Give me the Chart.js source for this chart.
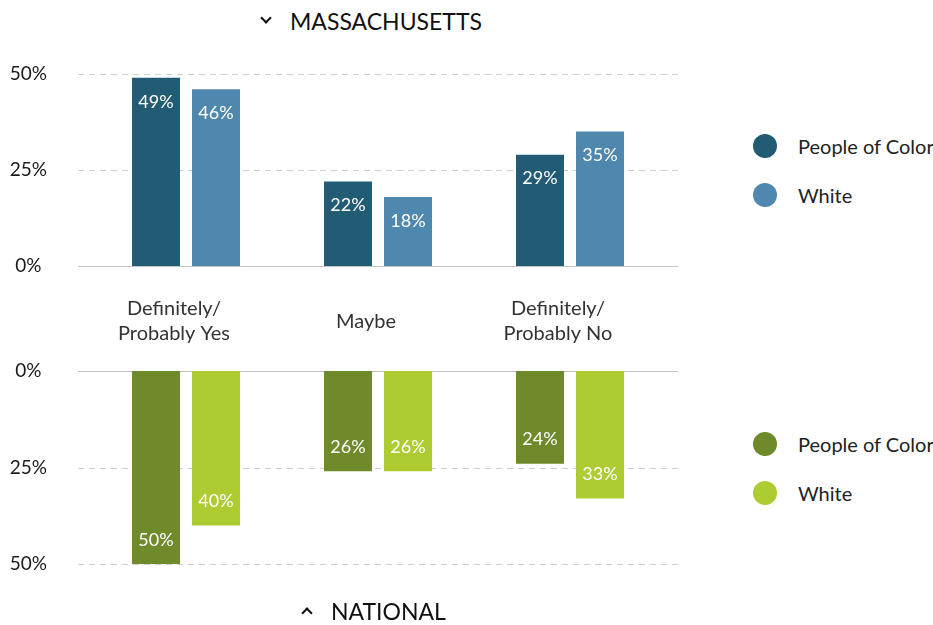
<!DOCTYPE html>
<html>
<head>
<meta charset="utf-8">
<script src="https://cdn.jsdelivr.net/npm/chart.js@4.4.1/dist/chart.umd.min.js"></script>
<style>
  html, body { margin: 0; padding: 0; background: #fff; }
  body { width: 933px; height: 625px; position: relative; overflow: hidden; font-family: Lato, "Open Sans", sans-serif; }
  .box { position: absolute; left: 0; width: 700px; }
  .title { position: absolute; font-size: 23px; color: #111; white-space: nowrap; }
  .chev { display: inline-block; width: 6px; height: 6px; border: solid #111; margin-right: 20px; vertical-align: middle; }
  .chev.down { border-width: 0 2px 2px 0; transform: rotate(45deg); position: relative; top: -6px; }
  .chev.up { border-width: 2px 0 0 2px; transform: rotate(45deg); position: relative; top: -1px; }
  .legend { position: absolute; left: 753px; font-size: 20px; color: #222; }
  .legend div { height: 49px; line-height: 24px; white-space: nowrap; }
  .legend span { display: inline-block; width: 24px; height: 24px; border-radius: 50%; vertical-align: top; margin-right: 21px; }
</style>
</head>
<body>
<div class="title" style="left:262px; top:7px;"><span class="chev down"></span>MASSACHUSETTS</div>
<div class="box" style="top:0; height:360px;"><canvas id="ma"></canvas></div>
<div class="box" style="top:321px; height:304px;"><canvas id="nat"></canvas></div>
<div class="title" style="left:303px; top:597px;"><span class="chev up"></span>NATIONAL</div>
<div class="legend" id="lg1" style="top:134px;"></div>
<div class="legend" id="lg2" style="top:432px;"></div>
<script>
const categories = [["Definitely/", "Probably Yes"], "Maybe", ["Definitely/", "Probably No"]];
const seriesNames = ["People of Color", "White"];
const maPoc = [49, 22, 29];
const maWhite = [46, 18, 35];
const natPoc = [50, 26, 24];
const natWhite = [40, 26, 33];
const yTicks = [0, 25, 50];
const maColors = ["#225b74", "#4f88ae"];
const natColors = ["#6f8a2a", "#adcc31"];

// dashed guide lines that run a little past the bars on both sides
const guides = {
  id: "guides",
  beforeDatasetsDraw(chart) {
    const ctx = chart.ctx, a = chart.chartArea, y = chart.scales.y;
    ctx.save();
    ctx.lineWidth = 1;
    yTicks.forEach(v => {
      const py = Math.round(y.getPixelForValue(v)) + 0.5;
      ctx.strokeStyle = v === 0 ? "#c4c4c4" : "#cfcfcf";
      ctx.setLineDash(v === 0 ? [] : [6, 5]);
      ctx.beginPath();
      ctx.moveTo(a.left - 12, py);
      ctx.lineTo(a.right + 12, py);
      ctx.stroke();
    });
    ctx.restore();
  },
};

// value labels inside the bar ends
const valueLabels = {
  id: "valueLabels",
  afterDatasetsDraw(chart) {
    const ctx = chart.ctx;
    ctx.save();
    ctx.fillStyle = "#fff";
    ctx.font = "18px Lato, sans-serif";
    ctx.textAlign = "center";
    ctx.textBaseline = "middle";
    chart.data.datasets.forEach((ds, i) => {
      chart.getDatasetMeta(i).data.forEach((bar, j) => {
        const dir = bar.base > bar.y ? 1 : -1;
        ctx.fillText(ds.data[j] + "%", bar.x, bar.y + dir * 24);
      });
    });
    ctx.restore();
  },
};

function makeChart(id, a, b, colors, opts) {
  return new Chart(document.getElementById(id), {
    type: "bar",
    data: {
      labels: categories,
      datasets: [
        { label: seriesNames[0], data: a, backgroundColor: colors[0] },
        { label: seriesNames[1], data: b, backgroundColor: colors[1] },
      ],
    },
    plugins: [guides, valueLabels],
    options: {
      responsive: true, maintainAspectRatio: false, animation: false,
      datasets: { bar: { barPercentage: 0.8, categoryPercentage: 0.625 } },
      layout: { padding: opts.padding },
      plugins: { legend: { display: false }, tooltip: { enabled: false } },
      scales: {
        x: {
          grid: { display: false }, border: { display: false },
          ticks: { display: opts.showX, color: "#333", padding: 35, crossAlign: "center", maxRotation: 0,
                   labelOffset: -12, font: { family: "Lato", size: 20, lineHeight: 1.25 } },
          afterFit: s => { s.height = opts.xHeight; },
        },
        y: {
          min: 0, max: 50, reverse: opts.reverse,
          grid: { display: false }, border: { display: false },
          afterBuildTicks: s => { s.ticks = yTicks.map(v => ({ value: v })); },
          afterFit: s => { s.width = 90; },
          ticks: { color: "#1a1a1a", padding: 35, crossAlign: "center",
                   font: { family: "Lato", size: 19 }, callback: v => v + "%" },
        },
      },
    },
  });
}

makeChart("ma", maPoc, maWhite, maColors,
  { padding: { top: 74, right: 34, bottom: 0, left: 0 }, showX: true, xHeight: 94, reverse: false });
makeChart("nat", natPoc, natWhite, natColors,
  { padding: { top: 50, right: 34, bottom: 0, left: 0 }, showX: false, xHeight: 61, reverse: true });

function legend(el, colors) {
  el.innerHTML = seriesNames.map((n, i) =>
    '<div><span style="background:' + colors[i] + '"></span>' + n + '</div>').join("");
}
legend(document.getElementById("lg1"), maColors);
legend(document.getElementById("lg2"), natColors);
</script>
</body>
</html>
